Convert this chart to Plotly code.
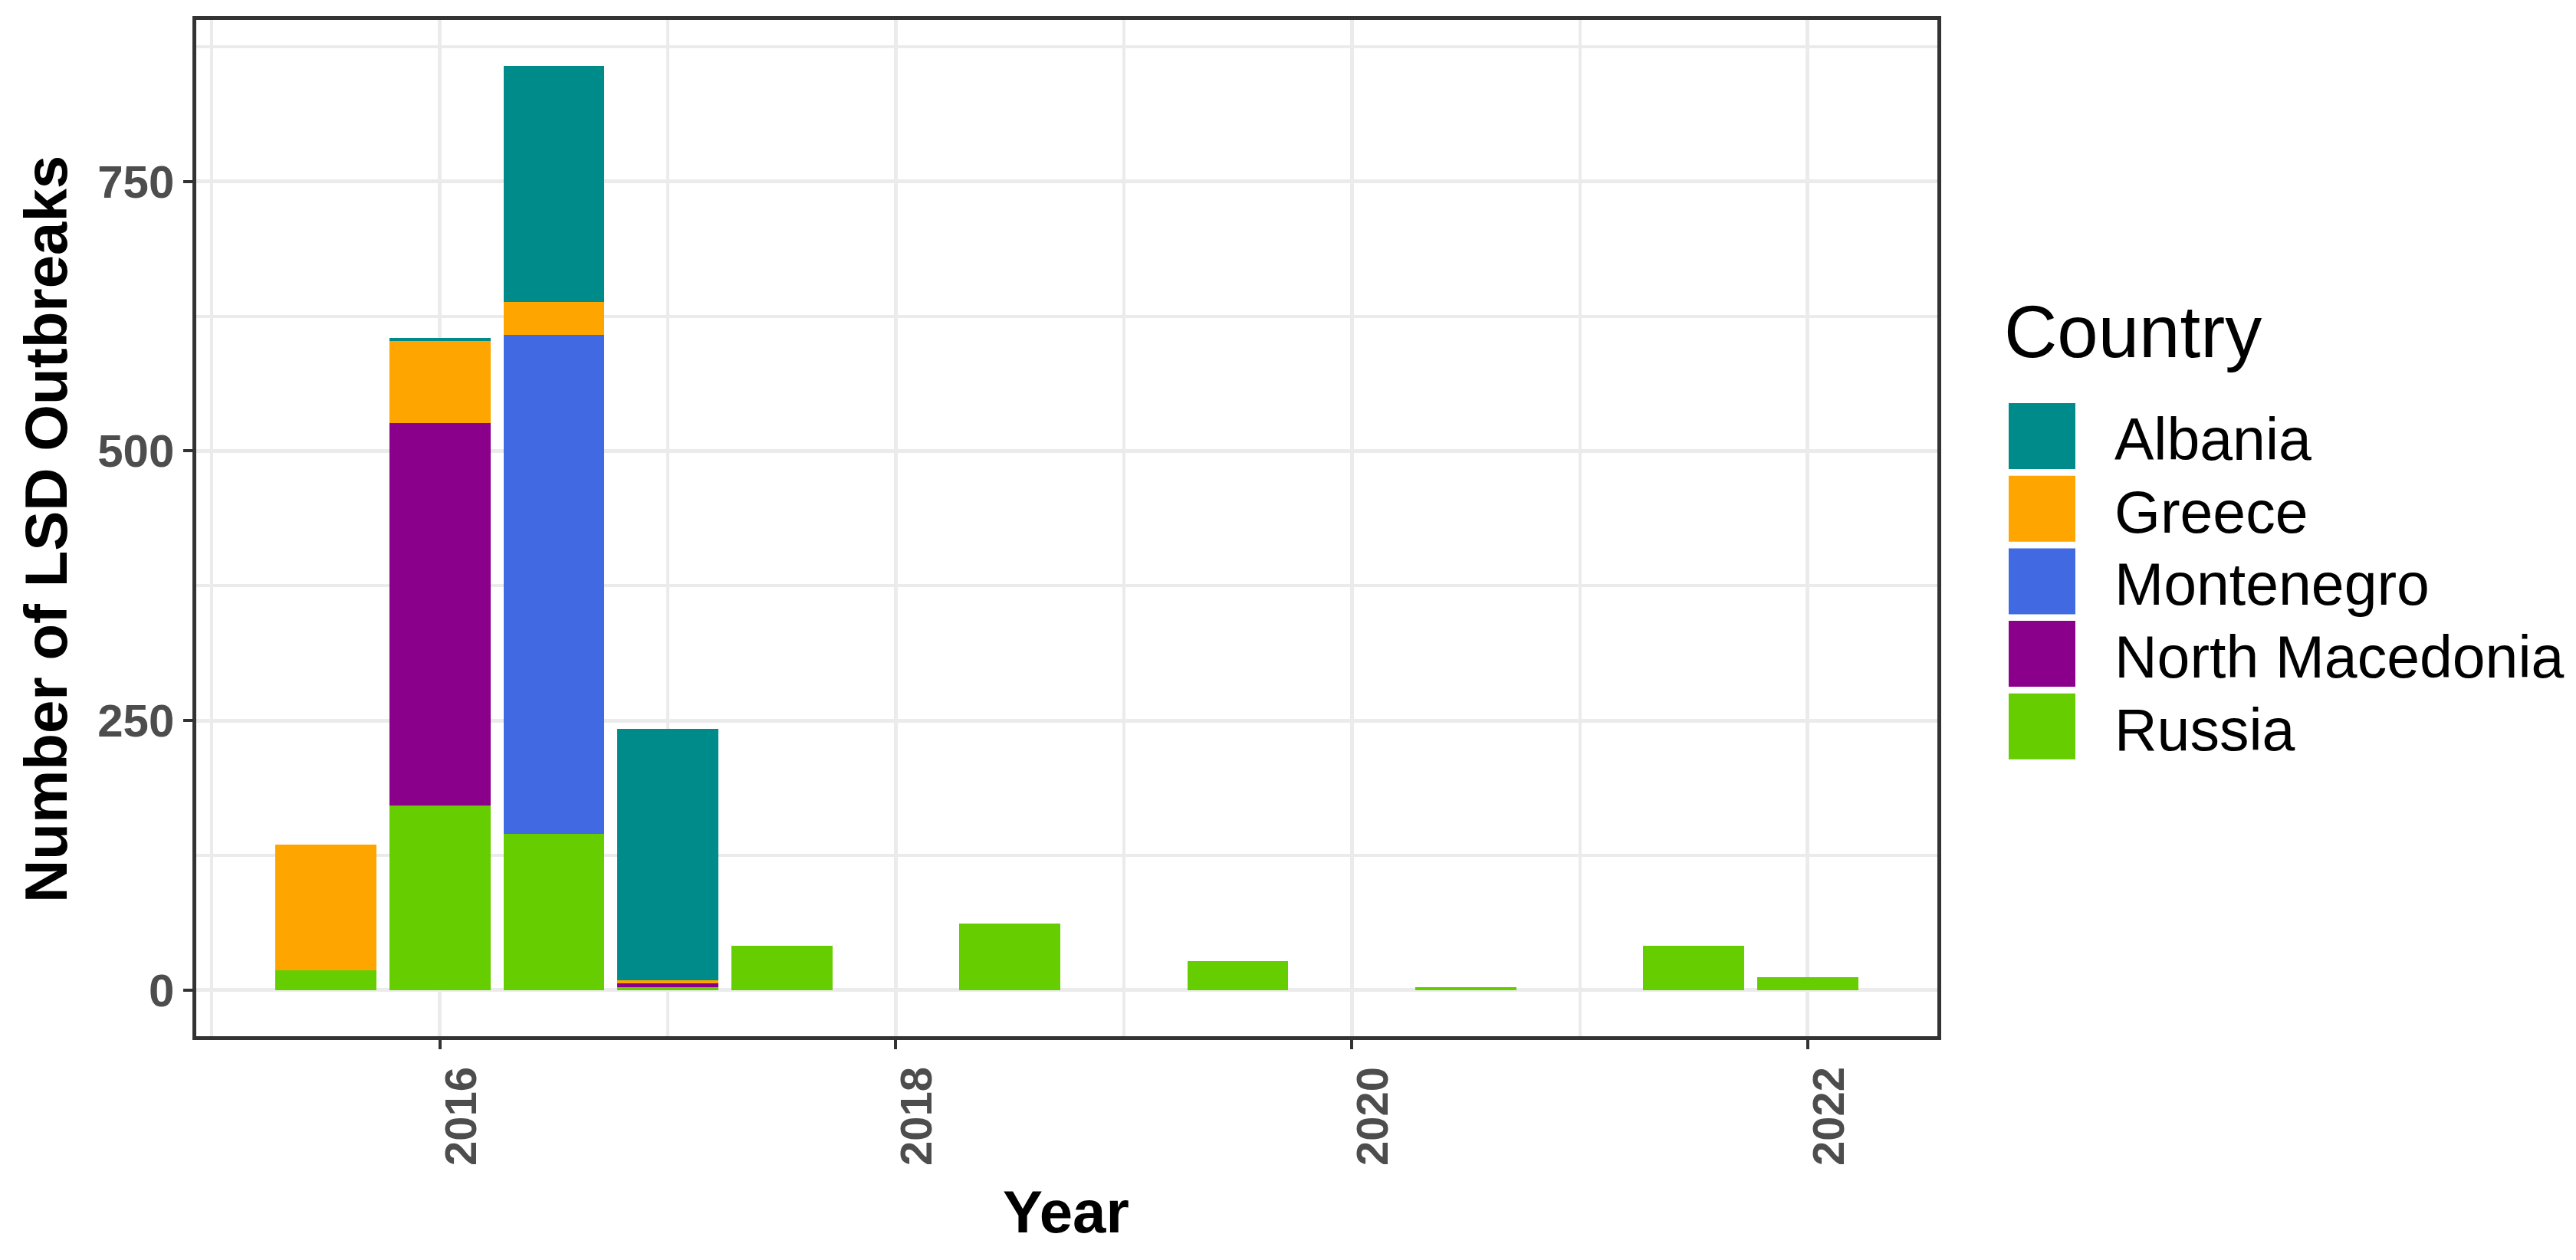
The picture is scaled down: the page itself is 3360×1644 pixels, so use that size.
import plotly.graph_objects as go

# ---------------- data ----------------
years = [2015.5, 2016.0, 2016.5, 2017.0, 2017.5, 2018.5, 2019.5, 2020.5, 2021.5, 2022.0]
countries = ["Albania", "Greece", "Montenegro", "North Macedonia", "Russia"]
colors = ["#008B8B", "#FFA500", "#4169E1", "#8B008B", "#66CD00"]
albania = [0, 3, 219, 233, 0, 0, 0, 0, 0, 0]
greece = [117, 76, 30, 3, 0, 0, 0, 0, 0, 0]
montenegro = [0, 0, 463, 0, 0, 0, 0, 0, 0, 0]
north_macedonia = [0, 355, 0, 3, 0, 0, 0, 0, 0, 0]
russia = [18, 171, 145, 3, 41, 62, 27, 3, 41, 12]
y_ticks = [0, 250, 500, 750]
y_minor = [125, 375, 625, 875]
x_ticks = [2016, 2018, 2020, 2022]
x_minor = [2015, 2017, 2019, 2021]
bar_width = 0.443

series = {
    "Albania": albania,
    "Greece": greece,
    "Montenegro": montenegro,
    "North Macedonia": north_macedonia,
    "Russia": russia,
}
color_of = dict(zip(countries, colors))

# ---------------- geometry (pixels) ----------------
W_PX, H_PX = 3360, 1644
L, R, T, B = 256, 2527, 26, 1352
PW, PH = R - L, B - T

def px_x(p):
    return (p - L) / PW

def px_y(p):
    return (B - p) / PH

FONT = "Liberation Sans, Arial, sans-serif"

fig = go.Figure()
# stack bottom -> top: Russia, North Macedonia, Montenegro, Greece, Albania
for name in reversed(countries):
    fig.add_trace(go.Bar(
        x=years, y=series[name], name=name, width=bar_width,
        marker=dict(color=color_of[name], line=dict(width=0)),
        showlegend=False,
    ))

totals = [sum(v) for v in zip(*series.values())]
ymax = max(totals)
ylo, yhi = -0.05 * ymax, 1.05 * ymax
xlo = min(years) - bar_width / 2
xhi = max(years) + bar_width / 2
xpad = 0.05 * (xhi - xlo)

axis_common = dict(
    showline=True, linecolor="#333333", linewidth=4.5, mirror=True,
    ticks="outside", ticklen=12, tickwidth=4, tickcolor="#333333",
    showgrid=True, gridcolor="#EBEBEB", gridwidth=4.5, zeroline=False,
)

fig.update_xaxes(
    range=[xlo - xpad, xhi + xpad],
    tickmode="array", tickvals=x_ticks, ticktext=[str(v) for v in x_ticks],
    tickangle=-90, ticklabelshift=28,
    tickfont=dict(family=FONT, size=58, color="#4D4D4D", weight="bold"),
    minor=dict(tickvals=x_minor, showgrid=True, gridcolor="#EBEBEB", gridwidth=3.5, ticks=""),
    **axis_common,
)
fig.update_yaxes(
    range=[ylo, yhi],
    tickmode="array", tickvals=y_ticks, ticktext=[str(v) for v in y_ticks],
    tickfont=dict(family=FONT, size=60, color="#4D4D4D", weight="bold"),
    minor=dict(tickvals=y_minor, showgrid=True, gridcolor="#EBEBEB", gridwidth=3.5, ticks=""),
    **axis_common,
)

annotations = []
shapes = []

# axis titles
annotations.append(dict(
    text="Year", xref="paper", yref="paper", x=px_x(1390), y=px_y(1581),
    xanchor="center", yanchor="middle", showarrow=False,
    font=dict(family=FONT, size=78, color="black", weight="bold"),
))
annotations.append(dict(
    text="Number of LSD Outbreaks", xref="paper", yref="paper", x=px_x(60), y=px_y(691),
    xanchor="center", yanchor="middle", showarrow=False, textangle=-90,
    font=dict(family=FONT, size=78, color="black", weight="bold"),
))

# legend (drawn manually so the keys match the reference size)
annotations.append(dict(
    text="Country", xref="paper", yref="paper", x=px_x(2612), y=px_y(432),
    xanchor="left", yanchor="middle", showarrow=False,
    font=dict(family=FONT, size=96, color="black"),
))
key_top0, key_pitch, key_h = 526, 94.7, 86
for i, name in enumerate(countries):
    top = key_top0 + i * key_pitch
    shapes.append(dict(
        type="rect", xref="paper", yref="paper",
        x0=px_x(2620), x1=px_x(2707), y0=px_y(top), y1=px_y(top + key_h),
        fillcolor=color_of[name], line=dict(width=0), layer="above",
    ))
    annotations.append(dict(
        text=name, xref="paper", yref="paper", x=px_x(2756), y=px_y(top + key_h / 2 + 4),
        xanchor="left", yanchor="middle", showarrow=False,
        font=dict(family=FONT, size=77, color="black"),
    ))

fig.update_layout(
    width=W_PX, height=H_PX, autosize=False,
    margin=dict(l=L, r=W_PX - R, t=T, b=H_PX - B, pad=0),
    paper_bgcolor="white", plot_bgcolor="white",
    barmode="stack", bargap=0,
    showlegend=False,
    annotations=annotations, shapes=shapes,
    font=dict(family=FONT),
)

fig.write_html(
    "out.html",
    config={"displayModeBar": False},
    post_script="document.body.style.margin='0';document.body.style.overflow='hidden';",
)
